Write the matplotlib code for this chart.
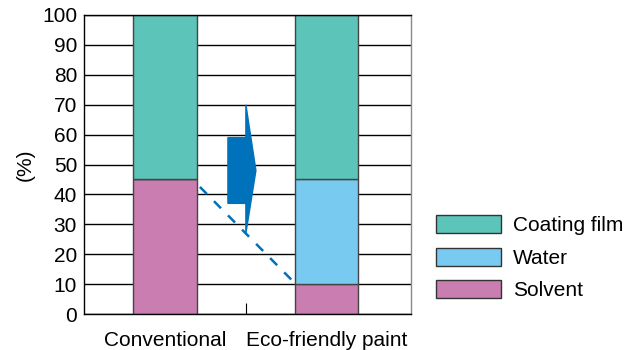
import matplotlib.pyplot as plt
from matplotlib.patches import Polygon, Patch

plt.rcParams['font.family'] = ['Liberation Sans', 'DejaVu Sans']

categories = ["Conventional", "Eco-friendly paint"]
solvent = [45, 10]
water = [0, 35]
coating = [55, 55]

c_coat = "#5cc4b9"
c_water = "#78caf0"
c_solv = "#c97db1"
c_arrow = "#0071bb"

fig = plt.figure(figsize=(6.24, 3.5), dpi=100)
ax = fig.add_axes([84/624, 1-314/350, 327/624, 299/350])

x = [0, 1]
w = 0.39
ax.set_axisbelow(True)
ax.yaxis.grid(True, color="black", lw=1)
ax.bar(x, solvent, w, color=c_solv, edgecolor="#444444", lw=1)
ax.bar(x, water, w, bottom=solvent, color=c_water, edgecolor="#444444", lw=1)
bot2 = [s + wt for s, wt in zip(solvent, water)]
ax.bar(x, coating, w, bottom=bot2, color=c_coat, edgecolor="#444444", lw=1)

# arrow between bars
arrow = Polygon([(0.389, 37), (0.5, 37), (0.5, 27), (0.562, 48), (0.5, 70),
                 (0.5, 59), (0.389, 59)], closed=True, color=c_arrow, zorder=5)
ax.add_patch(arrow)
ax.plot([0.216, 0.79], [42.5, 11], ls=(0, (4, 4)), color=c_arrow, lw=1.8, zorder=4)

ax.set_xlim(-0.5, 1.52)
ax.set_ylim(0, 100)
ax.set_yticks(range(0, 101, 10))
ax.tick_params(axis="y", length=0, labelsize=15, pad=5)
ax.set_xticks([0.5])
ax.set_xticklabels([""])
ax.tick_params(axis="x", direction="in", length=8, color="black")
for i, c in enumerate(categories):
    ax.text(x[i], -5.6, c, ha="center", va="top", fontsize=15)
ax.set_ylabel("(%)", fontsize=15, labelpad=5)
for s in ax.spines.values():
    s.set_color("black")
    s.set_linewidth(1)
ax.spines["right"].set_color("#888888")

handles = [Patch(facecolor=c_coat, edgecolor="#333333"),
           Patch(facecolor=c_water, edgecolor="#333333"),
           Patch(facecolor=c_solv, edgecolor="#333333")]
fig.legend(handles, ["Coating film", "Water", "Solvent"], loc="upper left",
           bbox_to_anchor=(436/624, 1-215/350), frameon=False, fontsize=15,
           borderpad=0, borderaxespad=0,
           handlelength=3.1, handleheight=0.95, labelspacing=0.6, handletextpad=0.6)

fig.savefig("out.png", dpi=100)
